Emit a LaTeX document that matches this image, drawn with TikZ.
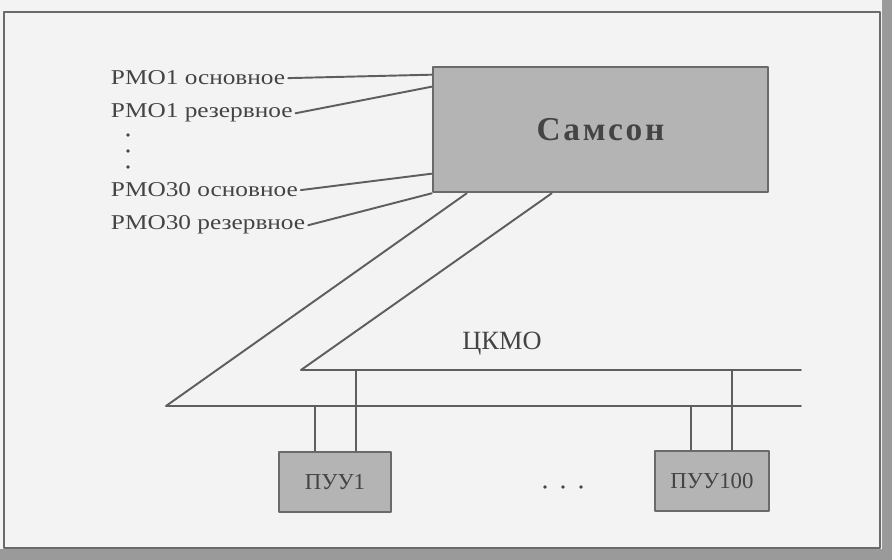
\documentclass[tikz,border=0pt]{standalone}
\usepackage{fontspec}
\setmainfont{Liberation Serif}
\newfontfamily\lblfont[FakeStretch=1.2]{Liberation Serif}
\newfontfamily\hdfont[LetterSpace=8]{Liberation Serif}
\usepackage{xcolor}
\usetikzlibrary{calc,positioning}
\definecolor{netink}{HTML}{444444}
\definecolor{netline}{HTML}{5E5E5E}
\definecolor{netedge}{HTML}{6A6A6A}
\definecolor{netfill}{HTML}{B4B4B4}
\definecolor{netpaper}{HTML}{F3F3F3}
\definecolor{netscan}{HTML}{9A9A9A}
\tikzset{
  every picture/.append style={line cap=round,line join=round},
  net box/.style={draw=netedge,fill=netfill,line width=1.5pt,inner sep=0pt,text=netink},
  net link/.style={draw=netline,line width=1.1pt},
  net label/.style={font=\lblfont\fontsize{12}{14}\selectfont,text=netink,inner sep=1.5pt,anchor=base west},
  net note/.style={font=\fontsize{15}{18}\selectfont,text=netink},
  net dot/.style={fill=netink}
}

\begin{document}
\begin{tikzpicture}[x=0.02cm,y=-0.02cm]
% paper, scan edges and frame
\fill[netpaper] (0,0) rectangle (892,560);
\fill[netscan] (0,549) rectangle (892,560);
\fill[netscan] (882,0) rectangle (892,560);
\draw[netedge,line width=1pt] (4,12) rectangle (880,548);

% server
\node[net box,minimum width=6.7cm,minimum height=2.5cm] (samson) at (600.5,129.5)
  {\hdfont\bfseries\fontsize{19}{22}\selectfont Самсон};

% workplaces
\node[net label] (rmo1a) at (108,85) {РМО1 основное};
\node[net label] (rmo1b) at (108,118) {РМО1 резервное};
\node[net label] (rmo30a) at (108,197) {РМО30 основное};
\node[net label] (rmo30b) at (108,230) {РМО30 резервное};
\foreach \y in {135,151,167}
  \fill[net dot] (128,\y) circle (1.8);

\coordinate (in1) at ($(samson.north west)+(0,9)$);
\coordinate (in2) at ($(samson.north west)+(0,21)$);
\coordinate (in3) at ($(samson.north west)+(0,108)$);
\coordinate (in4) at (samson.south west);
\draw[net link] (rmo1a.east) -- (in1);
\draw[net link] (rmo1b.east) -- (in2);
\draw[net link] (rmo30a.east) -- (in3);
\draw[net link] (rmo30b.east) -- (in4);

% ring network
\coordinate (busA w) at (301,370);
\coordinate (busA e) at (801,370);
\coordinate (busB w) at (166,406);
\coordinate (busB e) at (801,406);
\coordinate (out1) at ($(samson.south west)+(35,0)$);
\coordinate (out2) at ($(samson.south west)+(120,0)$);
\draw[net link] (out1) -- (busB w) -- (busB e);
\draw[net link] (out2) -- (busA w) -- (busA e);
\node[net note] (ckmo) at (502,344) {ЦКМО};

% control units
\node[net box,minimum width=2.24cm,minimum height=1.2cm] (puu1) at (335,482)
  {\fontsize{13}{15}\selectfont ПУУ1};
\node[net box,minimum width=2.28cm,minimum height=1.2cm] (puu100) at (712,481)
  {\fontsize{13}{15}\selectfont ПУУ100};
\foreach \x in {545,563,581}
  \fill[net dot] (\x,487) circle (1.8);

\foreach \p in {puu1,puu100} {
  \coordinate (\p-b) at ($(\p.north west)+(37,0)$);
  \coordinate (\p-a) at ($(\p.north west)+(78,0)$);
  \draw[net link] (\p-b) -- (\p-b |- busB w);
  \draw[net link] (\p-a) -- (\p-a |- busA w);
}
\end{tikzpicture}
\end{document}
